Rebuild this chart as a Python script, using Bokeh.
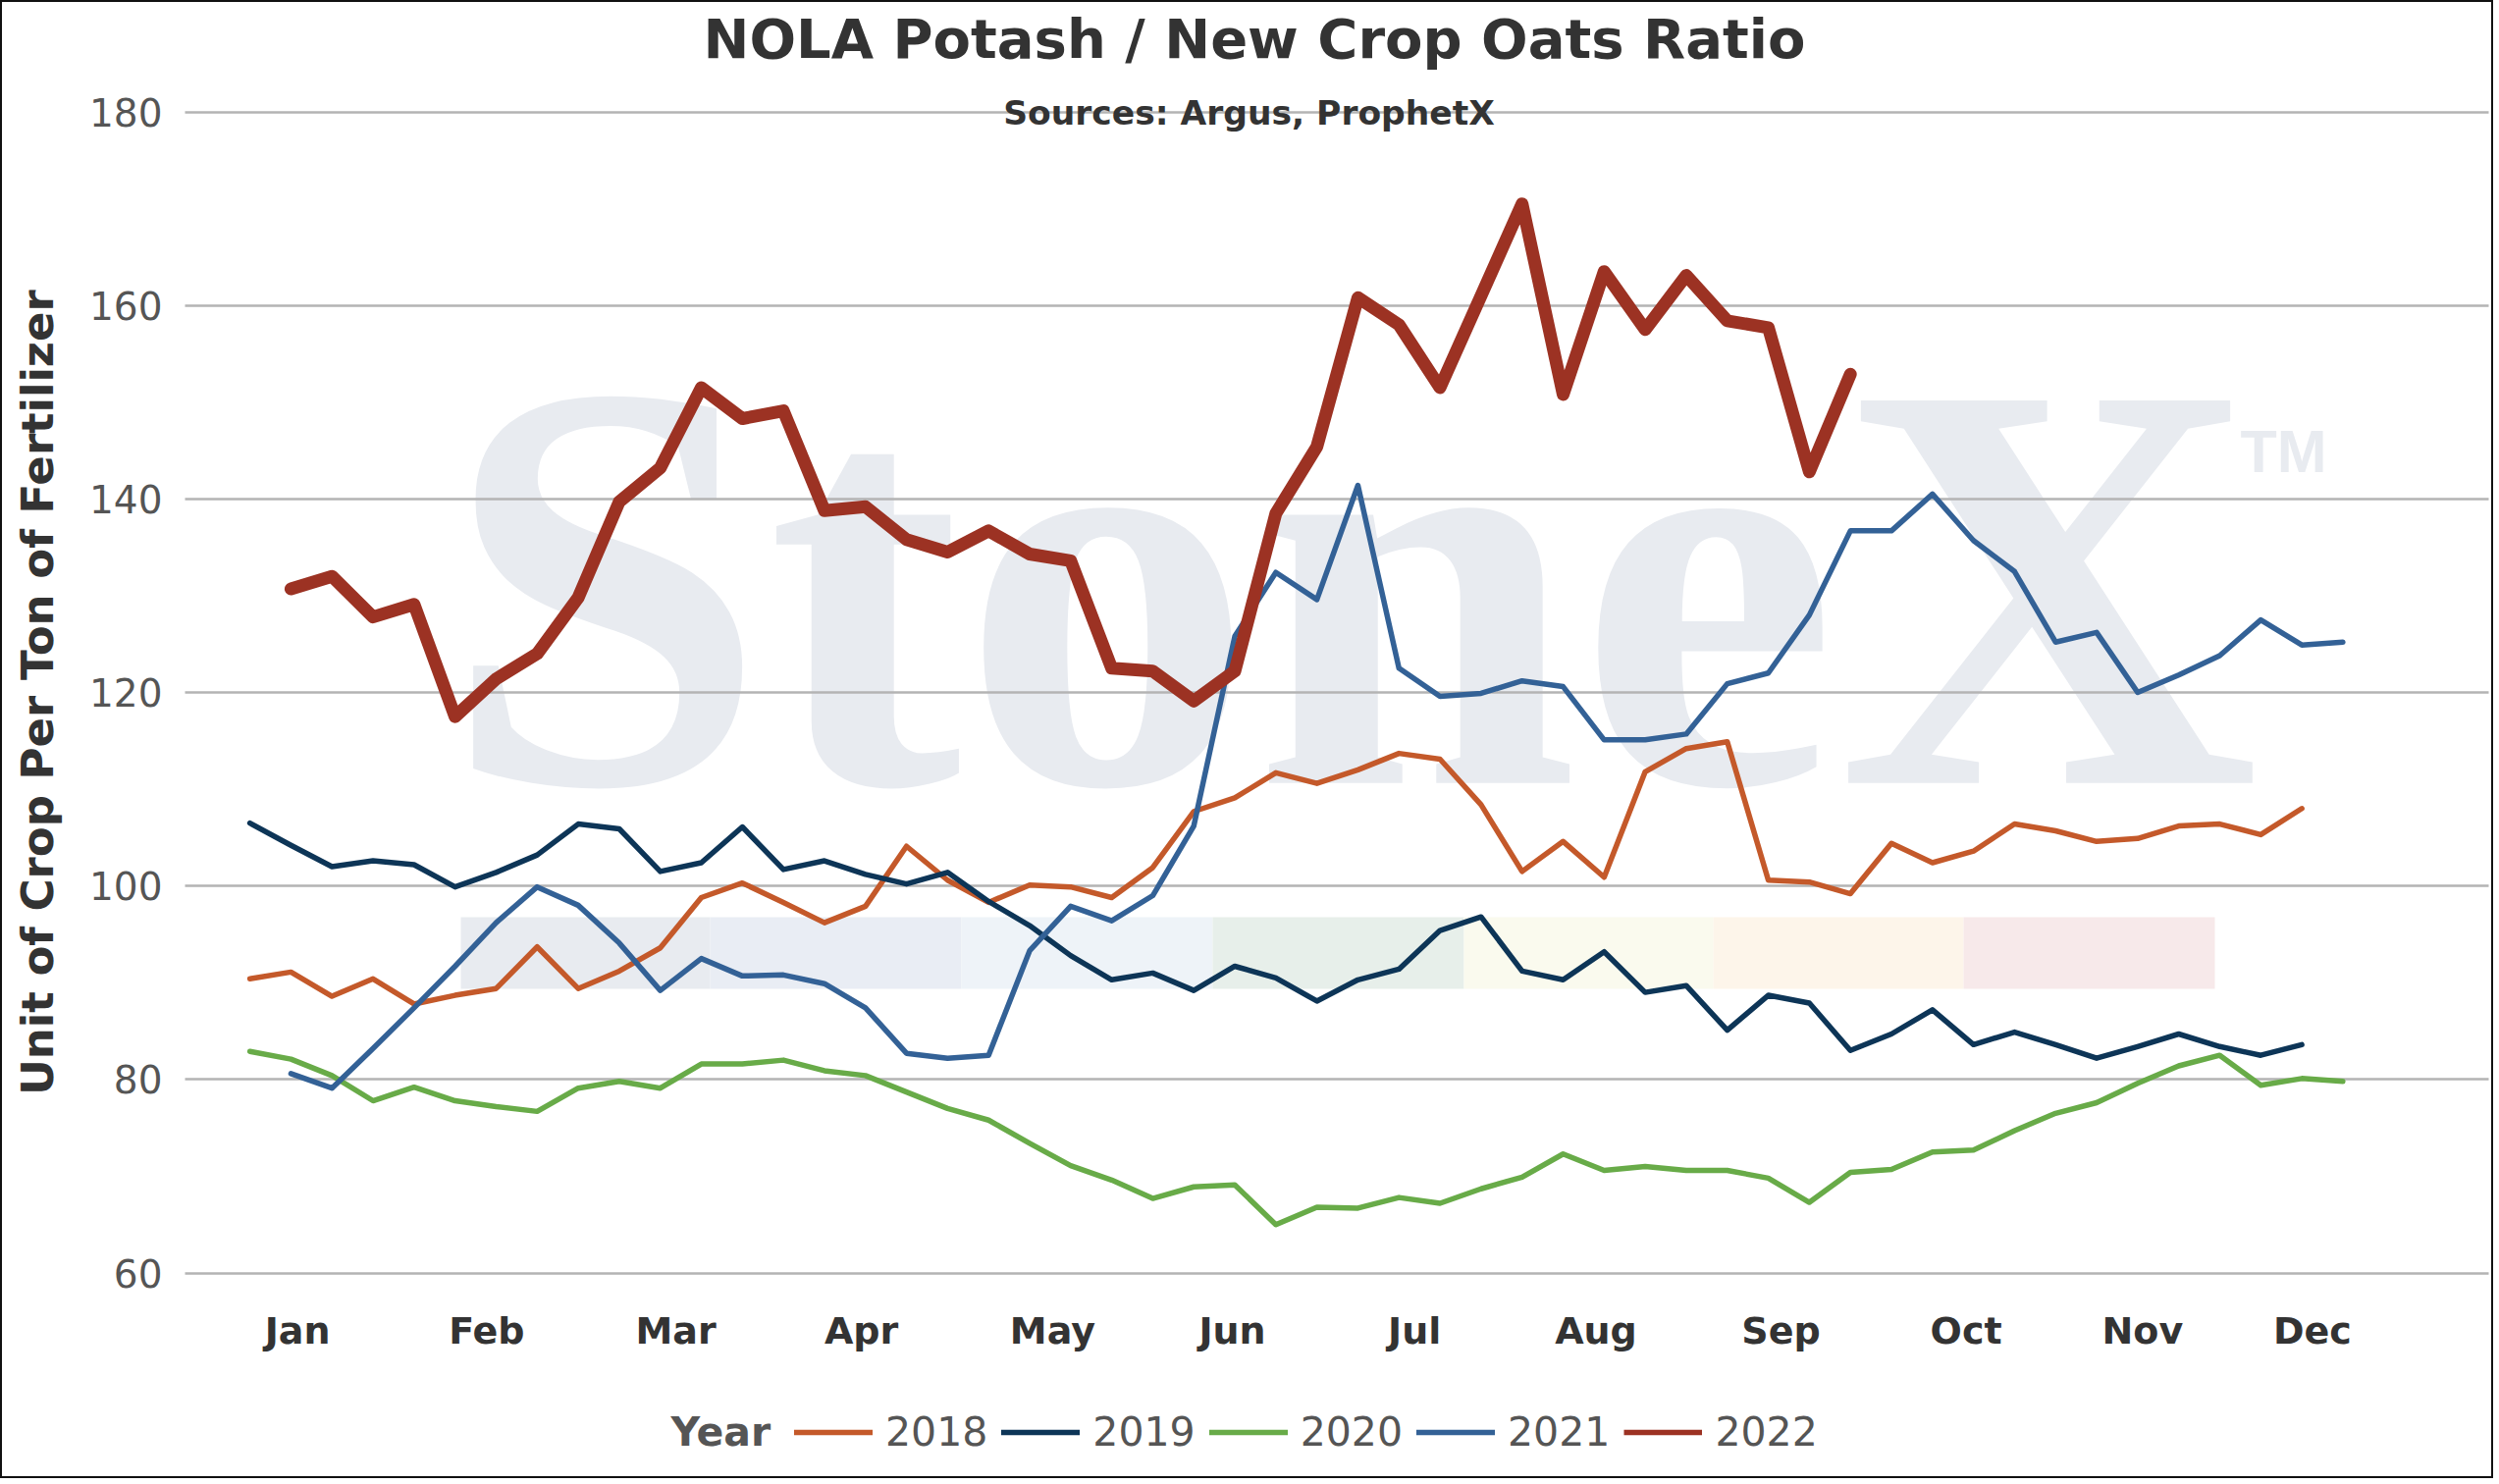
import math
from bokeh.plotting import figure
from bokeh.models import Range1d, FixedTicker, Label, Legend, LegendItem, LinearAxis
from bokeh.core.properties import value
from bokeh.embed import file_html
from bokeh.resources import INLINE

# ---------------- data ----------------
years = ["2018", "2019", "2020", "2021", "2022"]
first_week = {"2018": 0, "2019": 0, "2020": 0, "2021": 1, "2022": 1}

ratio_2018 = [90.4, 91.1, 88.6, 90.4, 87.8, 88.7, 89.4, 93.7, 89.4, 91.2,
              93.6, 98.8, 100.3, 98.3, 96.2, 97.9, 104.1, 100.6, 98.3, 100.1,
              99.9, 98.8, 101.9, 107.7, 109.1, 111.7, 110.6, 112.0, 113.7, 113.1,
              108.4, 101.5, 104.6, 100.9, 111.8, 114.2, 114.9, 100.6, 100.4, 99.2,
              104.4, 102.4, 103.6, 106.4, 105.7, 104.6, 104.9, 106.2, 106.4, 105.3,
              108.0]
ratio_2019 = [106.5, 104.2, 102.0, 102.6, 102.2, 99.9, 101.4, 103.2, 106.4, 105.9,
              101.5, 102.4, 106.1, 101.7, 102.6, 101.2, 100.2, 101.4, 98.4, 95.9,
              92.8, 90.3, 91.0, 89.2, 91.7, 90.5, 88.1, 90.3, 91.4, 95.4,
              96.8, 91.2, 90.3, 93.2, 89.0, 89.7, 85.1, 88.7, 87.9, 83.0,
              84.7, 87.2, 83.6, 84.9, 83.6, 82.2, 83.4, 84.7, 83.4, 82.5,
              83.6]
ratio_2020 = [82.9, 82.1, 80.4, 77.8, 79.2, 77.8, 77.2, 76.7, 79.1, 79.8,
              79.1, 81.6, 81.6, 82.0, 80.9, 80.4, 78.7, 77.0, 75.8, 73.4,
              71.1, 69.6, 67.7, 68.9, 69.1, 65.0, 66.8, 66.7, 67.8, 67.2,
              68.7, 69.9, 72.3, 70.6, 71.0, 70.6, 70.6, 69.8, 67.3, 70.4,
              70.7, 72.5, 72.7, 74.7, 76.5, 77.6, 79.6, 81.4, 82.5, 79.4,
              80.1, 79.8]
ratio_2021 = [80.6, 79.1, 83.2, 87.4, 91.7, 96.2, 99.9, 98.0, 94.1, 89.2,
              92.5, 90.7, 90.8, 89.9, 87.4, 82.7, 82.2, 82.5, 93.3, 97.9,
              96.4, 99.0, 106.2, 125.8, 132.4, 129.6, 141.4, 122.5, 119.6, 119.9,
              121.2, 120.6, 115.1, 115.1, 115.7, 120.9, 122.0, 128.0, 136.7, 136.7,
              140.5, 135.7, 132.5, 125.2, 126.2, 120.0, 121.8, 123.8, 127.5, 124.9,
              125.2]
ratio_2022 = [130.7, 132.0, 127.8, 129.1, 117.5, 121.4, 124.0, 129.8, 139.7, 143.2,
              151.5, 148.3, 149.1, 138.8, 139.2, 135.8, 134.5, 136.7, 134.3, 133.6,
              122.5, 122.2, 119.1, 122.2, 138.5, 145.4, 160.8, 158.0, 151.5, 161.0,
              170.5, 150.8, 163.5, 157.5, 163.1, 158.4, 157.7, 142.8, 152.9]

month_labels = ["Jan", "Feb", "Mar", "Apr", "May", "Jun",
                "Jul", "Aug", "Sep", "Oct", "Nov", "Dec"]
month_ticks = [1.16, 5.77, 10.38, 14.90, 19.56, 23.94,
               28.38, 32.80, 37.31, 41.82, 46.12, 50.26]
y_ticks = [60, 80, 100, 120, 140, 160, 180]

series = {"2018": ratio_2018, "2019": ratio_2019, "2020": ratio_2020,
          "2021": ratio_2021, "2022": ratio_2022}

# ---------------- styles ----------------
colors = {"2018": "#c4592a", "2019": "#0d3557", "2020": "#68ab48",
          "2021": "#336196", "2022": "#9c3223"}
widths = {"2018": 5.5, "2019": 5.5, "2020": 5.5, "2021": 5.5, "2022": 13}
stripe_colors = ["#e8ebf0", "#e9edf4", "#eef3f8", "#e7efea", "#fafaee", "#fdf5ea", "#f7e9ea"]
FONT = "DejaVu Sans"

# ---------------- layout geometry (pixels) ----------------
W, H = 2540, 1506
PLOT_L, PLOT_R = 188, 2535          # extent of the plotting area (grid lines)
PPY = (1296.5 - 113.5) / 120.0      # value 180 at 113.5 px, 60 at 1296.5 px
Y1 = 180 + 113.5 / PPY
Y0 = 60 - (H - 1296.5) / PPY
PPX = 41.81                         # week 0 at 254.1 px
X0 = (0 - 254.1) / PPX
X1 = (W - 254.1) / PPX
BASE_SHIFT = 0.34                   # em correction for alphabetic baseline


def fx(px):
    return X0 + px / PPX


def fy(py):
    return Y1 - py / PPY


def base(py, size):
    return fy(py - BASE_SHIFT * size)


p = figure(width=W, height=H, output_backend="svg", toolbar_location=None,
           x_range=Range1d(X0, X1), y_range=Range1d(Y0, Y1),
           x_axis_location=None, y_axis_location=None,
           min_border_left=0, min_border_right=0, min_border_top=0, min_border_bottom=0)
p.outline_line_color = "#111111"
p.outline_line_width = 3
p.background_fill_color = "white"
p.border_fill_color = "white"

# watermark (logo) behind the grid
stripe_edges = [469, 723, 979, 1235, 1491, 1745, 2000, 2256]
p.quad(left=[fx(v) for v in stripe_edges[:-1]], right=[fx(v) for v in stripe_edges[1:]],
       top=[fy(934)] * 7, bottom=[fy(1007)] * 7,
       fill_color=stripe_colors, line_color=None, level="image")
p.text(x=[fx(450)], y=[base(799, 595)], text=["StoneX"], text_font=value("Liberation Serif"),
       text_font_size=value("595px"), text_font_style="bold", text_color="#e8ebf0",
       text_align="left", text_baseline="alphabetic", level="image")
p.text(x=[fx(2282)], y=[fy(459)], text=["TM"], text_font=value("Liberation Sans"),
       text_font_size=value("61px"), text_font_style="bold", text_color="#e8ebf0",
       text_align="left", text_baseline="alphabetic", level="image")


def plain_axis(ax):
    ax.axis_line_color = None
    ax.major_tick_line_color = None
    ax.minor_tick_line_color = None
    ax.major_tick_out = 0
    ax.major_tick_in = 0
    ax.minor_tick_out = 0
    ax.minor_tick_in = 0
    ax.major_label_text_font = FONT


# x axis drawn at value 60
xaxis = LinearAxis(ticker=FixedTicker(ticks=month_ticks), fixed_location=60)
xaxis.major_label_overrides = {t: m for t, m in zip(month_ticks, month_labels)}
plain_axis(xaxis)
xaxis.major_label_text_font_size = "38px"
xaxis.major_label_text_font_style = "bold"
xaxis.major_label_text_color = "#333333"
xaxis.major_label_standoff = 37
p.add_layout(xaxis, "below")

# y axis drawn at the left edge of the plotting area
yaxis = LinearAxis(ticker=FixedTicker(ticks=y_ticks), fixed_location=fx(PLOT_L))
plain_axis(yaxis)
yaxis.major_label_text_font_size = "39px"
yaxis.major_label_text_color = "#555555"
yaxis.major_label_standoff = 23
p.add_layout(yaxis, "left")

p.ygrid.ticker = FixedTicker(ticks=y_ticks)
p.ygrid.grid_line_color = "#b4b4b4"
p.ygrid.grid_line_width = 2.6
try:
    p.ygrid.cross_bounds = (fx(PLOT_L), fx(PLOT_R))
except Exception:
    p.ygrid.visible = False
    p.segment(x0=[fx(PLOT_L)] * len(y_ticks), x1=[fx(PLOT_R)] * len(y_ticks),
              y0=y_ticks, y1=y_ticks, line_color="#b4b4b4", line_width=2.6, level="underlay")
p.xgrid.visible = False

# y axis title
p.text(x=[fx(38)], y=[120], text=["Unit of Crop Per Ton of Fertilizer"], angle=math.pi / 2,
       text_font=value(FONT), text_font_size=value("45px"), text_font_style="bold",
       text_color="#333333", text_align="center", text_baseline="middle")

# lines
renderers = {}
for yr in years:
    ys = series[yr]
    xs = list(range(first_week[yr], first_week[yr] + len(ys)))
    renderers[yr] = p.line(xs, ys, line_color=colors[yr], line_width=widths[yr],
                           line_join="round", line_cap="round")

proxy_2022 = p.line([float("nan")], [float("nan")], line_color=colors["2022"], line_width=5.5)
items = []
for yr in years:
    r = proxy_2022 if yr == "2022" else renderers[yr]
    items.append(LegendItem(label=yr, renderers=[r]))

legend = Legend(items=items, location=(809, H - 1483.3), orientation="horizontal",
                glyph_width=80, glyph_height=48, label_height=48, label_standoff=13,
                spacing=14, padding=0, margin=0, border_line_color=None,
                background_fill_alpha=0, label_text_font=FONT,
                label_text_font_size="41px", label_text_color="#555555")
p.add_layout(legend)

p.add_layout(Label(x=fx(683), y=base(1472.7, 41), text="Year", text_align="left",
                   text_baseline="alphabetic", text_font=FONT, text_font_size="41px",
                   text_font_style="bold", text_color="#555555"))

p.add_layout(Label(x=fx(1277.5), y=base(58, 56), text="NOLA Potash / New Crop Oats Ratio",
                   text_align="center", text_baseline="alphabetic", text_font=FONT,
                   text_font_size="56px", text_font_style="bold", text_color="#333333"))
p.add_layout(Label(x=fx(1272), y=base(126, 34.5), text="Sources: Argus, ProphetX",
                   text_align="center", text_baseline="alphabetic", text_font=FONT,
                   text_font_size="34.5px", text_font_style="bold", text_color="#333333"))

open("out.html", "w").write(file_html(p, INLINE))
